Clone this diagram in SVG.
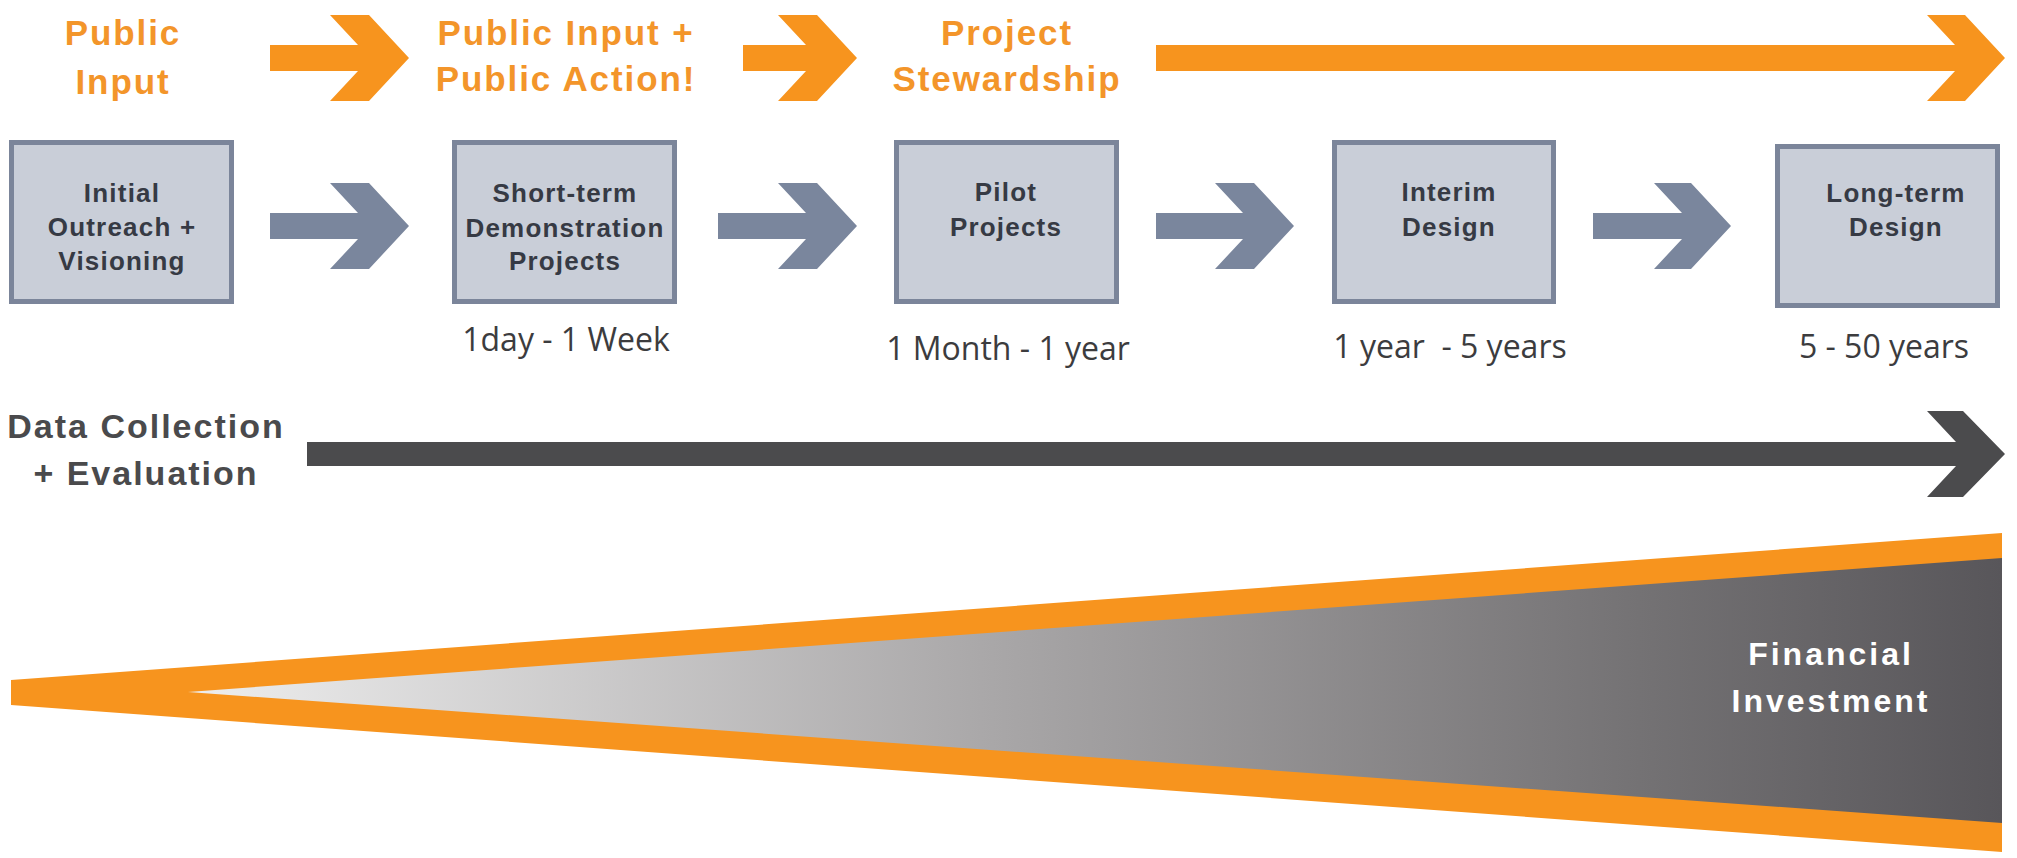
<svg xmlns="http://www.w3.org/2000/svg" width="2017" height="858" viewBox="0 0 2017 858">
<style>
.title{font-family:"Liberation Sans",Arial,sans-serif;font-weight:bold;font-size:35px;letter-spacing:1.9px;fill:#f3952a;text-anchor:middle}
.box{fill:#c9ced8;stroke:#7b859a;stroke-width:5}
.bt{font-family:"Liberation Sans",Arial,sans-serif;font-weight:bold;font-size:26px;letter-spacing:1.2px;fill:#363a44;text-anchor:middle}
.dt{font-family:"Open Sans",sans-serif;font-size:32px;fill:#3c3c3e;text-anchor:middle;white-space:pre}
.orange{fill:#f7941e}
.gray{fill:#7a869d}
.dark{fill:#4b4b4d}
.dc{font-family:"Liberation Sans",Arial,sans-serif;font-weight:bold;font-size:34px;letter-spacing:2px;fill:#4a4a4c;text-anchor:middle}
.fi{font-family:"Liberation Sans",Arial,sans-serif;font-weight:bold;font-size:32px;letter-spacing:3px;fill:#ffffff;text-anchor:middle}
</style>
<defs>
<linearGradient id="fin" gradientUnits="userSpaceOnUse" x1="188" y1="0" x2="2002" y2="0">
<stop offset="0" stop-color="#eeeeee"/>
<stop offset="0.45" stop-color="#a8a6a7"/>
<stop offset="0.8" stop-color="#747274"/>
<stop offset="1" stop-color="#58565a"/>
</linearGradient>
</defs>
<rect width="2017" height="858" fill="#ffffff"/>

<g id="phase-titles">
<text class="title" x="123" y="45">Public</text>
<text class="title" x="123" y="94">Input</text>
<text class="title" x="566" y="45">Public Input +</text>
<text class="title" x="566" y="91">Public Action!</text>
<text class="title" x="1007" y="45">Project</text>
<text class="title" x="1007" y="91">Stewardship</text>
</g>

<g id="connectors">
<path class="orange" d="M270,45 L358,45 L330,15 L369,15 L409,58 L369,101 L330,101 L358,71 L270,71 Z"/>
<path class="orange" d="M743,45 L806,45 L778,15 L817,15 L857,58 L817,101 L778,101 L806,71 L743,71 Z"/>
<path class="orange" d="M1156,45 L1955,45 L1927,15 L1965,15 L2005,58 L1965,101 L1927,101 L1955,71 L1156,71 Z"/>
<path class="gray" d="M270,213 L358,213 L330,183 L369,183 L409,226 L369,269 L330,269 L358,239 L270,239 Z"/>
<path class="gray" d="M718,213 L806,213 L778,183 L817,183 L857,226 L817,269 L778,269 L806,239 L718,239 Z"/>
<path class="gray" d="M1156,213 L1243,213 L1215,183 L1254,183 L1294,226 L1254,269 L1215,269 L1243,239 L1156,239 Z"/>
<path class="gray" d="M1593,213 L1682,213 L1654,183 L1691,183 L1731,226 L1691,269 L1654,269 L1682,239 L1593,239 Z"/>
<path class="dark" d="M307,442 L1956,442 L1927,411 L1963,411 L2005,454 L1963,497 L1927,497 L1956,466 L307,466 Z"/>
</g>

<g id="node-initial">
<rect class="box" x="11.5" y="142.5" width="220" height="159"/>
<text class="bt" x="122" y="202">Initial</text>
<text class="bt" x="122" y="236">Outreach +</text>
<text class="bt" x="122" y="270">Visioning</text>
</g>

<g id="node-short-term">
<rect class="box" x="454.5" y="142.5" width="220" height="159"/>
<text class="bt" x="565" y="202">Short-term</text>
<text class="bt" x="565" y="237">Demonstration</text>
<text class="bt" x="565" y="270">Projects</text>
<text class="dt" x="566" y="351">1day - 1 Week</text>
</g>

<g id="node-pilot">
<rect class="box" x="896.5" y="142.5" width="220" height="159"/>
<text class="bt" x="1006" y="201">Pilot</text>
<text class="bt" x="1006" y="236">Projects</text>
<text class="dt" x="1008" y="360">1 Month - 1 year</text>
</g>

<g id="node-interim">
<rect class="box" x="1334.5" y="142.5" width="219" height="159"/>
<text class="bt" x="1449" y="201">Interim</text>
<text class="bt" x="1449" y="236">Design</text>
<text class="dt" x="1450" y="358">1 year  - 5 years</text>
</g>

<g id="node-long-term">
<rect class="box" x="1777.5" y="146.5" width="220" height="159"/>
<text class="bt" x="1896" y="202">Long-term</text>
<text class="bt" x="1896" y="236">Design</text>
<text class="dt" x="1884" y="358">5 - 50 years</text>
</g>

<g id="data-collection">
<text class="dc" x="146" y="438">Data Collection</text>
<text class="dc" x="146" y="485">+ Evaluation</text>
</g>

<g id="financial-investment">
<polygon class="orange" points="11,680 2002,533 2002,852 11,705"/>
<polygon fill="url(#fin)" points="188,692 2002,558 2002,823"/>
<text class="fi" x="1831" y="665">Financial</text>
<text class="fi" x="1831" y="712">Investment</text>
</g>
</svg>
